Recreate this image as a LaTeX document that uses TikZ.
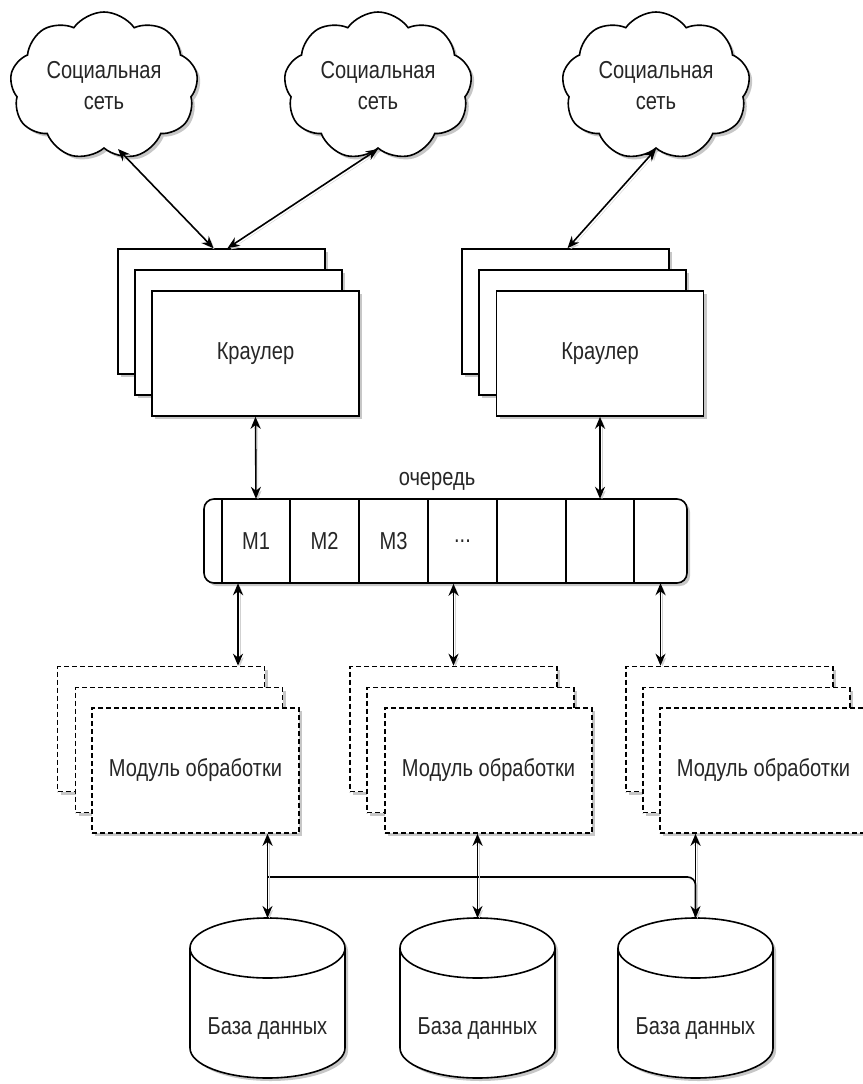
\documentclass[tikz,border=0pt]{standalone}
\usepackage{fontspec}
\setmainfont{Liberation Sans}[FakeStretch=0.82]
\usetikzlibrary{shapes.symbols,shadows,arrows.meta,calc}
\newcommand{\mydbshape}[1]{%
  \begin{scope}[shift={(#1,0)}]
    \fill[black!22, transform canvas={xshift=3pt,yshift=-3pt}] (-77.5,948) -- (-77.5,1048) arc[start angle=180,end angle=0,x radius=77.5,y radius=30] -- (77.5,948) arc[start angle=0,end angle=-180,x radius=77.5,y radius=30] -- cycle;
    \filldraw[fill=white, draw=black, line width=1.6pt] (-77.5,948) -- (-77.5,1048) arc[start angle=180,end angle=0,x radius=77.5,y radius=30] -- (77.5,948) arc[start angle=0,end angle=-180,x radius=77.5,y radius=30] -- cycle;
    \draw[line width=1.6pt] (-77.5,948) arc[start angle=180,end angle=0,x radius=77.5,y radius=30];
  \end{scope}}
\begin{document}
\begin{tikzpicture}[x=1pt,y=-1pt,
  font=\fontsize{24.5}{31}\selectfont,
  every node/.style={text=black!85},
  shad/.style={drop shadow={shadow xshift=3pt,shadow yshift=-3pt,fill=black!22,opacity=1}},
  boxbase/.style={draw=black, line width=1.6pt, fill=white, shad},
  crawlbox/.style={boxbase, minimum width=207pt, minimum height=125pt, inner sep=0pt},
  modbox/.style={crawlbox, dash pattern=on 5pt off 3pt},
  cloudnode/.style={boxbase, cloud, cloud puffs=9, cloud puff arc=110, cloud ignores aspect, minimum width=188pt, minimum height=148pt, align=center, inner sep=0pt},
  cell/.style={minimum width=69pt, minimum height=84pt, inner sep=0pt},
  arr/.style={draw=black, line width=1.6pt, {Stealth[length=12pt,width=10pt]}-{Stealth[length=12pt,width=10pt]}, preaction={draw=black!18, transform canvas={xshift=2pt,yshift=-2pt}}},
  conn/.style={draw=black, line width=1.6pt, rounded corners=8pt, preaction={draw=black!18, transform canvas={xshift=2pt,yshift=-2pt}}},
]
\useasboundingbox (0,0) rectangle (862,1084);

% clouds
\node[cloudnode] (cl1) at (104,86) {Социальная\\сеть};
\node[cloudnode] (cl2) at (378,86) {Социальная\\сеть};
\node[cloudnode] (cl3) at (656,86) {Социальная\\сеть};

% crawlers
\node[crawlbox] (cr1a) at (221.5,311.5) {};
\node[crawlbox] (cr1b) at (238.5,332.5) {};
\node[crawlbox] (cr1c) at (255.5,353.5) {Краулер};
\node[crawlbox] (cr2a) at (565.5,311.5) {};
\node[crawlbox] (cr2b) at (582.5,332.5) {};
\node[crawlbox] (cr2c) at (600,353.5) {Краулер};

% queue
\node (qlabel) at (437,481) {очередь};
\node[boxbase, rounded corners=10pt, minimum width=483pt, minimum height=84pt, inner sep=0pt] (queue) at (445.5,541) {};
\foreach \x in {222,290,359,428,497,566,634} \draw[line width=1.6pt] (\x,499) -- (\x,583);
\node[cell] (c1) at (256,541) {M1};
\node[cell] (c2) at (324.5,541) {M2};
\node[cell] (c3) at (393.5,541) {M3};
\node[cell] (c4) at (462.5,541) {...};
\node[cell] (c5) at (531.5,541) {};
\node[cell] (c6) at (600,541) {};
\node[cell, minimum width=53pt] (c7) at (660.5,541) {};

% processing modules
\node[modbox] (m1a) at (161,729) {};
\node[modbox] (m1b) at (179,750) {};
\node[modbox] (m1c) at (195.5,770.5) {Модуль обработки};
\node[modbox] (m2a) at (453.5,729) {};
\node[modbox] (m2b) at (470.5,750) {};
\node[modbox] (m2c) at (488.5,770.5) {Модуль обработки};
\node[modbox] (m3a) at (729.5,729) {};
\node[modbox] (m3b) at (746.5,750) {};
\node[modbox] (m3c) at (763.5,770.5) {Модуль обработки};

% databases
\mydbshape{267.5}
\mydbshape{477.5}
\mydbshape{695.5}
\node (db1) at (267.5,1028) {База данных};
\node (db2) at (477.5,1028) {База данных};
\node (db3) at (695.5,1028) {База данных};
\coordinate (db1top) at (267.5,918);
\coordinate (db2top) at (477.5,918);
\coordinate (db3top) at (695.5,918);

% connectors
\draw[arr] ([xshift=14pt]cl1.south) -- ([xshift=-8pt]cr1a.north);
\draw[arr] (cl2.south) -- ([xshift=6pt]cr1a.north);
\draw[arr] (cl3.south) -- ([xshift=2pt]cr2a.north);

\draw[arr] (cr1c.south) -- (c1.north);
\draw[arr] (cr2c.south) -- (c6.north);

\coordinate (q1) at ([xshift=-18pt]c1.south);
\draw[arr] (q1) -- (q1 |- m1a.north);
\draw[arr] (m2a.north |- queue.south) -- (m2a.north);
\draw[arr] (c7.south) -- (c7.south |- m3a.north);

\coordinate (bj) at (267.5,877);
\draw[conn] (bj) -| (db3top);
\draw[arr] (db1top |- m1c.south) -- (db1top);
\draw[arr] (db2top |- m2c.south) -- (db2top);
\draw[arr] (db3top |- m3c.south) -- (db3top);
\end{tikzpicture}
\end{document}
